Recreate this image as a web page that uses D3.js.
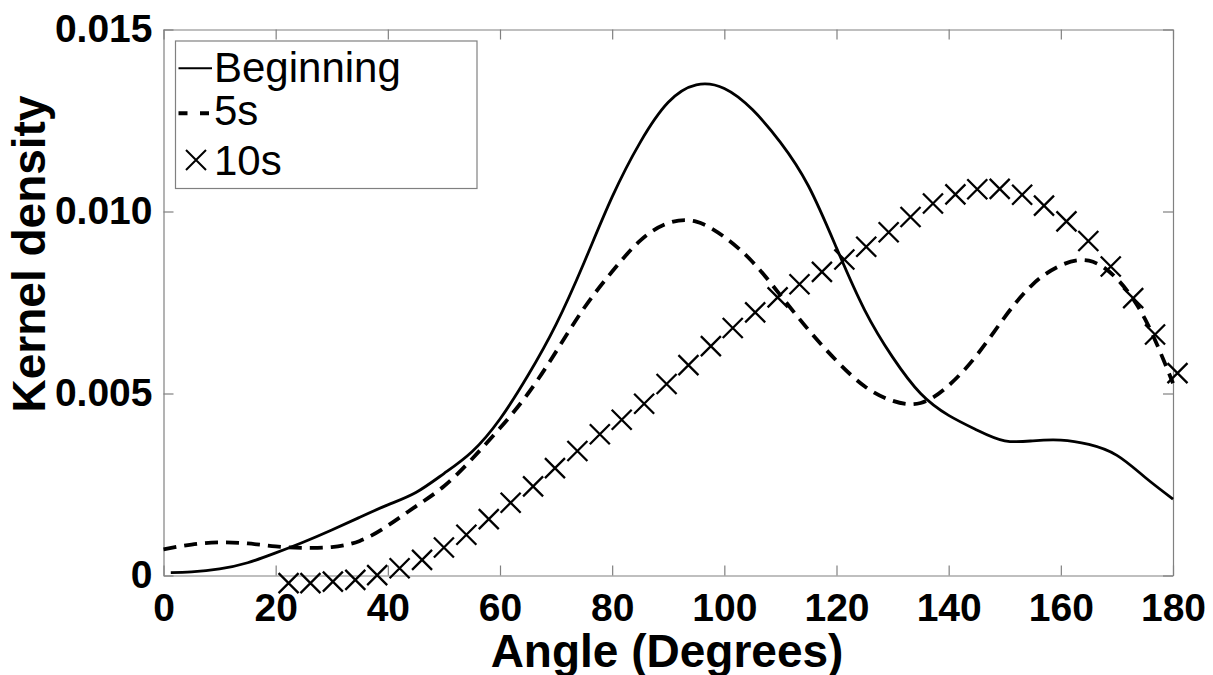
<!DOCTYPE html>
<html>
<head>
<meta charset="utf-8">
<script src="https://cdn.jsdelivr.net/npm/d3@7"></script>
<style>
  html, body { margin: 0; padding: 0; background: #fff; }
  svg { display: block; }
  text { font-family: "Liberation Sans", Arial, Helvetica, sans-serif; fill: #000; }
</style>
</head>
<body>
<svg id="chart" width="1213" height="675"></svg>
<script>
// Kernel density estimates of angle (degrees) at three moments
const beginAngle = [1.3, 5, 10, 15, 20, 25, 30, 35, 40, 45, 50, 55, 60, 65, 70, 75, 80, 85, 90, 95, 100, 105, 110, 115, 120, 125, 130, 135, 140, 145, 150, 155, 160, 165, 170, 175, 180];
const beginDensity = [0.00008, 0.0001, 0.00018, 0.00035, 0.00062, 0.00092, 0.00125, 0.0016, 0.00194, 0.00228, 0.0028, 0.0034, 0.0043, 0.0055, 0.0069, 0.0086, 0.0104, 0.0119, 0.0130, 0.01348, 0.01338, 0.0128, 0.0119, 0.0107, 0.0090, 0.0073, 0.0060, 0.0050, 0.0044, 0.0040, 0.0037, 0.0037, 0.00372, 0.0036, 0.0033, 0.0027, 0.0021];

const fiveAngle = [0, 5, 10, 15, 20, 25, 30, 35, 40, 45, 50, 55, 60, 65, 70, 75, 80, 85, 90, 95, 100, 105, 110, 115, 120, 125, 130, 135, 140, 145, 150, 155, 160, 165, 170, 175, 180];
const fiveDensity = [0.00072, 0.00085, 0.00091, 0.00088, 0.0008, 0.00076, 0.00078, 0.00095, 0.00137, 0.0019, 0.00245, 0.0032, 0.00405, 0.005, 0.00615, 0.00735, 0.00835, 0.0092, 0.00968, 0.00972, 0.0093, 0.00862, 0.0077, 0.00675, 0.0059, 0.0052, 0.0048, 0.00474, 0.00522, 0.00605, 0.0071, 0.008, 0.00852, 0.00865, 0.00815, 0.00705, 0.00528];

const tenAngle = [22.3, 26.2, 30.2, 34.2, 38.1, 42.1, 46.1, 50.0, 54.0, 58.0, 61.9, 65.9, 69.8, 73.8, 77.8, 81.7, 85.7, 89.7, 93.6, 97.6, 101.5, 105.5, 109.5, 113.4, 117.4, 121.4, 125.3, 129.3, 133.2, 137.2, 141.2, 145.1, 149.1, 153.1, 157.0, 161.0, 164.9, 168.9, 172.9, 176.8, 180.8];
const tenDensity = [-0.00021, -0.00021, -0.00017, -0.00012, 0.00001, 0.0002, 0.00043, 0.00077, 0.00112, 0.00155, 0.002, 0.00245, 0.00295, 0.00342, 0.00388, 0.00428, 0.00472, 0.00526, 0.00578, 0.0063, 0.0068, 0.00723, 0.00764, 0.008, 0.00834, 0.00868, 0.00903, 0.00943, 0.00985, 0.01022, 0.01047, 0.01061, 0.01062, 0.01046, 0.01016, 0.00973, 0.00919, 0.00849, 0.00762, 0.00662, 0.00556];

const xTicks = [0, 20, 40, 60, 80, 100, 120, 140, 160, 180];
const yTicks = [0, 0.005, 0.010, 0.015];
const yTickLabels = ["0", "0.005", "0.010", "0.015"];
const seriesNames = ["Beginning", "5s", "10s"];
const xTitle = "Angle (Degrees)";
const yTitle = "Kernel density";

const svg = d3.select("#chart");
const W = 1213, H = 675;
const box = { left: 163.5, right: 1173, top: 29.5, bottom: 575.5 };
const axisGray = "#808080";

svg.append("rect").attr("width", W).attr("height", H).attr("fill", "#fff");

const x = d3.scaleLinear().domain([0, 180]).range([box.left, box.right]);
const y = d3.scaleLinear().domain([0, 0.015]).range([box.bottom, box.top]);

function styleAxis(g) {
  g.select(".domain").attr("stroke", axisGray).attr("stroke-width", 1.2);
  g.selectAll(".tick line").attr("stroke", axisGray).attr("stroke-width", 1.2);
  g.selectAll(".tick text")
    .attr("fill", "#000")
    .style("font-size", "39px")
    .style("font-weight", "bold")
    .style("font-family", '"Liberation Sans", Arial, sans-serif');
}

// Bottom and left axes carry the labels; top and right just close the box
svg.append("g").attr("transform", `translate(0,${box.bottom})`)
  .call(d3.axisBottom(x).tickValues(xTicks).tickSizeInner(-10).tickSizeOuter(0).tickPadding(18).tickFormat(d3.format("d")))
  .call(styleAxis);
svg.append("g").attr("transform", `translate(0,${box.top})`)
  .call(d3.axisTop(x).tickValues(xTicks).tickSizeInner(-10).tickSizeOuter(0).tickFormat(""))
  .call(styleAxis);
svg.append("g").attr("transform", `translate(${box.left},0)`)
  .call(d3.axisLeft(y).tickValues(yTicks).tickSizeInner(-10).tickSizeOuter(0).tickPadding(11)
    .tickFormat((d, i) => yTickLabels[i]))
  .call(styleAxis);
svg.append("g").attr("transform", `translate(${box.right},0)`)
  .call(d3.axisRight(y).tickValues(yTicks).tickSizeInner(-10).tickSizeOuter(0).tickFormat(""))
  .call(styleAxis);

// Curves
const line = d3.line()
  .x(d => x(d[0]))
  .y(d => y(d[1]))
  .curve(d3.curveNatural);

const beginData = d3.zip(beginAngle, beginDensity);
const fiveData = d3.zip(fiveAngle, fiveDensity);
const tenData = d3.zip(tenAngle, tenDensity);

svg.append("path").datum(beginData)
  .attr("d", line)
  .attr("fill", "none").attr("stroke", "#000").attr("stroke-width", 2.8)
  .attr("stroke-linejoin", "round");

svg.append("path").datum(fiveData)
  .attr("d", line)
  .attr("fill", "none").attr("stroke", "#000").attr("stroke-width", 3.8)
  .attr("stroke-dasharray", "13,8");

const crossPath = s => `M${-s},${-s}L${s},${s}M${-s},${s}L${s},${-s}`;

svg.append("g").selectAll("path").data(tenData).join("path")
  .attr("transform", d => `translate(${x(d[0])},${y(d[1])})`)
  .attr("d", crossPath(10))
  .attr("fill", "none").attr("stroke", "#000").attr("stroke-width", 2.3);

// Legend
const lg = svg.append("g");
lg.append("rect")
  .attr("x", 175.5).attr("y", 41).attr("width", 301.5).attr("height", 147.5)
  .attr("fill", "#fff").attr("stroke", axisGray).attr("stroke-width", 1.2);

const legendFont = 42;
const rowBase = [81.7, 125, 175];
const textX = 214;

lg.append("line").attr("x1", 178.5).attr("x2", 212).attr("y1", 68.3).attr("y2", 68.3)
  .attr("stroke", "#000").attr("stroke-width", 2);
lg.append("line").attr("x1", 178.5).attr("x2", 212).attr("y1", 113.3).attr("y2", 113.3)
  .attr("stroke", "#000").attr("stroke-width", 4).attr("stroke-dasharray", "9,12.5");
lg.append("path").attr("transform", "translate(196,160)").attr("d", crossPath(10))
  .attr("fill", "none").attr("stroke", "#000").attr("stroke-width", 2);

lg.selectAll("text.lbl").data(seriesNames).join("text")
  .attr("class", "lbl")
  .attr("x", textX)
  .attr("y", (d, i) => rowBase[i])
  .style("font-size", legendFont + "px")
  .text(d => d);

// Axis titles
svg.append("text")
  .attr("x", 667).attr("y", 666.7)
  .attr("text-anchor", "middle")
  .style("font-size", "46px").style("font-weight", "bold")
  .text(xTitle);

svg.append("text")
  .attr("transform", "translate(45,254) rotate(-90)")
  .attr("text-anchor", "middle")
  .style("font-size", "46px").style("font-weight", "bold")
  .text(yTitle);
</script>
</body>
</html>
